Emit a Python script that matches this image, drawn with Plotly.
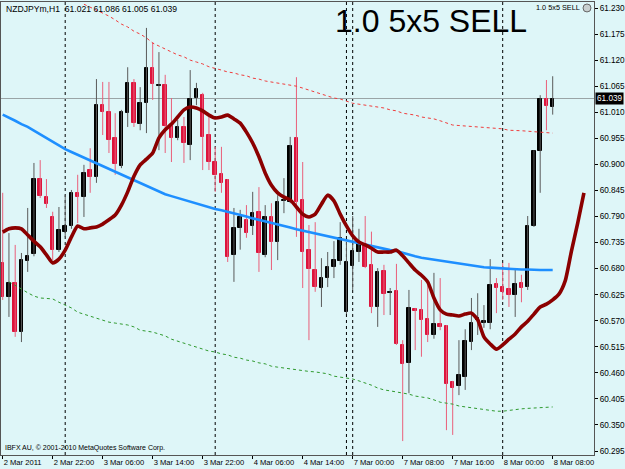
import plotly.graph_objects as go

# ---------------- data ----------------
tick_bars = [0, 8, 16, 24, 32, 40, 48, 56, 64, 72, 80, 88]
tick_labels = ["2 Mar 2011", "2 Mar 22:00", "3 Mar 06:00", "3 Mar 14:00", "3 Mar 22:00",
               "4 Mar 06:00", "4 Mar 14:00", "7 Mar 00:00", "7 Mar 08:00", "7 Mar 16:00",
               "8 Mar 00:00", "8 Mar 08:00"]
separators = [10, 34, 55, 56, 80]   # period separator bars (day boundaries)

opens = [60.692, 60.620, 60.650, 60.546, 60.696, 60.711, 60.869, 60.831, 60.789, 60.720,
         60.758, 60.770, 60.840, 60.831, 60.888, 60.873, 61.025, 61.010, 60.955, 60.897,
         61.008, 61.072, 60.985, 61.029, 61.103, 61.065, 61.067, 60.981, 60.955, 60.979,
         60.941, 61.040, 61.046, 60.962, 60.905, 60.880, 60.867, 60.709, 60.766, 60.783,
         60.770, 60.800, 60.709, 60.789, 60.736, 60.823, 60.821, 60.955, 60.825, 60.720,
         60.677, 60.639, 60.660, 60.683, 60.696, 60.588, 60.685, 60.715, 60.730, 60.688,
         60.599, 60.675, 60.628, 60.633, 60.519, 60.481, 60.595, 60.593, 60.574, 60.540,
         60.563, 60.559, 60.441, 60.432, 60.451, 60.525, 60.571, 60.565, 60.565, 60.647,
         60.641, 60.637, 60.624, 60.650, 60.641, 60.770, 60.928, 61.038, 61.021]
highs = [60.840, 60.755, 60.730, 60.713, 60.808, 60.903, 60.909, 60.869, 60.800, 60.810,
         60.835, 60.846, 60.878, 60.899, 60.934, 61.080, 61.074, 61.074, 61.008, 61.015,
         61.105, 61.080, 61.063, 61.188, 61.158, 61.137, 61.089, 61.040, 60.994, 61.000,
         61.099, 61.072, 61.051, 61.000, 60.937, 60.937, 60.869, 60.808, 60.804, 60.814,
         60.842, 60.852, 60.814, 60.818, 60.835, 60.871, 60.958, 61.084, 60.905, 60.772,
         60.778, 60.702, 60.715, 60.738, 60.778, 60.736, 60.791, 60.764, 60.791, 60.758,
         60.681, 60.688, 60.639, 60.690, 60.529, 60.635, 60.597, 60.656, 60.645, 60.671,
         60.660, 60.561, 60.443, 60.529, 60.552, 60.618, 60.628, 60.603, 60.700, 60.660,
         60.692, 60.692, 60.677, 60.667, 60.791, 60.930, 61.046, 61.078, 61.086]
lows = [60.614, 60.578, 60.536, 60.525, 60.673, 60.706, 60.829, 60.808, 60.698, 60.715,
        60.747, 60.764, 60.776, 60.789, 60.840, 60.861, 60.962, 60.924, 60.878, 60.892,
        60.979, 60.979, 60.972, 60.966, 61.036, 60.930, 60.924, 60.905, 60.951, 60.903,
        60.909, 61.025, 60.888, 60.888, 60.842, 60.840, 60.694, 60.652, 60.720, 60.745,
        60.751, 60.673, 60.704, 60.677, 60.698, 60.797, 60.818, 60.747, 60.639, 60.529,
        60.631, 60.599, 60.641, 60.660, 60.688, 60.584, 60.635, 60.694, 60.681, 60.586,
        60.557, 60.582, 60.582, 60.519, 60.316, 60.417, 60.508, 60.494, 60.525, 60.532,
        60.550, 60.339, 60.329, 60.413, 60.424, 60.508, 60.540, 60.555, 60.552, 60.586,
        60.614, 60.599, 60.578, 60.609, 60.635, 60.768, 60.840, 60.972, 61.005]
closes = [60.620, 60.650, 60.546, 60.698, 60.706, 60.869, 60.833, 60.816, 60.720, 60.762,
          60.770, 60.840, 60.831, 60.882, 60.873, 61.025, 61.010, 60.951, 60.901, 61.010,
          61.072, 60.987, 61.029, 61.103, 61.070, 61.067, 60.981, 60.955, 60.979, 60.945,
          61.038, 61.059, 60.958, 60.905, 60.878, 60.861, 60.704, 60.766, 60.789, 60.755,
          60.797, 60.713, 60.789, 60.736, 60.821, 60.825, 60.939, 60.821, 60.715, 60.679,
          60.641, 60.660, 60.683, 60.698, 60.745, 60.694, 60.717, 60.734, 60.683, 60.599,
          60.673, 60.626, 60.631, 60.521, 60.479, 60.597, 60.590, 60.571, 60.540, 60.563,
          60.557, 60.437, 60.428, 60.455, 60.527, 60.565, 60.576, 60.569, 60.645, 60.639,
          60.631, 60.624, 60.647, 60.639, 60.770, 60.928, 61.038, 61.023, 61.039]

# shifted smoothing line (extends 5 bars past the last candle)
smooth_line = [60.757, 60.764, 60.766, 60.764, 60.751, 60.738, 60.726, 60.709, 60.692, 60.700,
               60.719, 60.747, 60.770, 60.764, 60.766, 60.768, 60.774, 60.783, 60.793, 60.814,
               60.842, 60.875, 60.899, 60.911, 60.924, 60.956, 60.973, 60.985, 61.000, 61.015,
               61.021, 61.019, 61.013, 61.004, 60.998, 61.000, 61.004, 60.996, 60.987, 60.968,
               60.945, 60.916, 60.882, 60.856, 60.840, 60.831, 60.825, 60.810, 60.795, 60.789,
               60.795, 60.816, 60.835, 60.823, 60.795, 60.770, 60.749, 60.736, 60.730, 60.723,
               60.715, 60.715, 60.715, 60.719, 60.707, 60.692, 60.677, 60.666, 60.652, 60.618,
               60.593, 60.584, 60.582, 60.580, 60.584, 60.586, 60.572, 60.536, 60.521, 60.510,
               60.519, 60.531, 60.542, 60.557, 60.569, 60.584, 60.599, 60.605, 60.614, 60.626,
               60.654, 60.717, 60.776, 60.840]

moving_avg = [61.005, 60.999, 60.992, 60.985, 60.979, 60.971, 60.963, 60.955, 60.948, 60.940,
              60.932, 60.926, 60.920, 60.914, 60.908, 60.902, 60.896, 60.890, 60.884, 60.878,
              60.872, 60.866, 60.860, 60.855, 60.849, 60.843, 60.837, 60.833, 60.829, 60.825,
              60.821, 60.817, 60.813, 60.810, 60.806, 60.803, 60.800, 60.797, 60.793, 60.790,
              60.786, 60.783, 60.779, 60.776, 60.773, 60.770, 60.767, 60.763, 60.760, 60.757,
              60.754, 60.752, 60.749, 60.746, 60.743, 60.740, 60.737, 60.734, 60.731, 60.728,
              60.725, 60.722, 60.719, 60.717, 60.713, 60.710, 60.706, 60.703, 60.701, 60.699,
              60.696, 60.694, 60.692, 60.690, 60.688, 60.686, 60.684, 60.683, 60.682, 60.681,
              60.680, 60.680, 60.679, 60.678, 60.678, 60.677, 60.677, 60.677, 60.677]

upper_band = [None] * 13 + [
              61.238, 61.232, 61.226, 61.219, 61.213, 61.205, 61.196,
              61.190, 61.181, 61.175, 61.167, 61.156, 61.150, 61.143, 61.137, 61.131, 61.127,
              61.120, 61.116, 61.112, 61.106, 61.103, 61.099, 61.095, 61.093, 61.089, 61.087,
              61.082, 61.080, 61.076, 61.074, 61.072, 61.070, 61.067, 61.065, 61.061, 61.057,
              61.053, 61.049, 61.044, 61.040, 61.038, 61.034, 61.029, 61.027, 61.025, 61.023,
              61.021, 61.019, 61.015, 61.013, 61.008, 61.006, 61.004, 61.000, 60.998, 60.996,
              60.992, 60.987, 60.983, 60.982, 60.981, 60.980, 60.979, 60.978, 60.977, 60.976,
              60.975, 60.972, 60.972, 60.971, 60.970, 60.969, 60.968, 60.967, 60.966]

lower_band = [None] + [
              60.652, 60.645, 60.637, 60.629, 60.622, 60.618, 60.617, 60.616, 60.609,
              60.603, 60.597, 60.588, 60.584, 60.580, 60.576, 60.572, 60.567, 60.565, 60.563,
              60.561, 60.557, 60.550, 60.548, 60.546, 60.542, 60.538, 60.531, 60.527, 60.523,
              60.519, 60.515, 60.510, 60.506, 60.504, 60.500, 60.498, 60.493, 60.491, 60.487,
              60.485, 60.481, 60.479, 60.474, 60.472, 60.470, 60.468, 60.466, 60.464, 60.463,
              60.462, 60.460, 60.458, 60.453, 60.451, 60.449, 60.447, 60.443, 60.439, 60.434,
              60.428, 60.424, 60.422, 60.420, 60.418, 60.415, 60.411, 60.409, 60.407, 60.403,
              60.398, 60.396, 60.394, 60.390, 60.388, 60.386, 60.384, 60.382, 60.381, 60.379,
              60.379, 60.381, 60.382, 60.384, 60.385, 60.386, 60.387, 60.388, 60.388]

y_ticks = [round(60.295 + 0.055 * k, 3) for k in range(18)]

# ---------------- style ----------------
BG = "#def6f8"
RED = "#dc143c"
FONT = "Liberation Sans, Arial, sans-serif"

n = len(opens)
idx = list(range(n))
bull = [c >= o for o, c in zip(opens, closes)]

fig = go.Figure()

# wicks
for is_bull, col in [(True, "#5a5a5a"), (False, "#ea5f7a")]:
    xs, ys = [], []
    for i in idx:
        if bull[i] == is_bull:
            xs += [i, i, None]
            ys += [lows[i], highs[i], None]
    fig.add_trace(go.Scatter(x=xs, y=ys, mode="lines", line=dict(color=col, width=1),
                             hoverinfo="skip"))

# bodies
body_base = [min(o, c) for o, c in zip(opens, closes)]
body_h = [abs(c - o) for o, c in zip(opens, closes)]
body_col = ["#000000" if b else RED for b in bull]
fig.add_trace(go.Bar(x=idx, y=body_h, base=body_base, width=0.56,
                     marker=dict(color=body_col, line=dict(color=body_col, width=1))))

# indicator lines
fig.add_trace(go.Scatter(x=list(range(len(upper_band))), y=upper_band, mode="lines",
                         line=dict(color="#f03c3c", width=1, dash="3px,3px")))
fig.add_trace(go.Scatter(x=list(range(len(lower_band))), y=lower_band, mode="lines",
                         line=dict(color="#2f9a2f", width=1, dash="3px,3px")))
fig.add_trace(go.Scatter(x=list(range(len(moving_avg))), y=moving_avg, mode="lines",
                         line=dict(color="#1e8fff", width=2.6)))
fig.add_trace(go.Scatter(x=list(range(len(smooth_line))), y=smooth_line, mode="lines",
                         line=dict(color="#8b0000", width=3.6, shape="spline", smoothing=0.6)))

# period separators
for s in separators:
    fig.add_shape(type="line", x0=s, x1=s, xref="x", y0=0, y1=1, yref="paper",
                  line=dict(color="#000000", width=1, dash="dot"), layer="below")

# bid line
fig.add_shape(type="line", x0=0, x1=1, xref="paper", y0=closes[-1], y1=closes[-1], yref="y",
              line=dict(color="#9aa4a6", width=1), layer="below")

annotations = [
    dict(text="NZDJPYm,H1  %.3f %.3f %.3f %.3f" % (opens[-1], highs[-1], lows[-1], closes[-1]),
         x=0, xref="paper", xanchor="left", xshift=3, y=1, yref="paper", yanchor="top", yshift=0,
         showarrow=False, font=dict(family=FONT, size=8.6, color="#000")),
    dict(text="1.0 5x5 SELL", x=0.7245, xref="paper", xanchor="center",
         y=0.957, yref="paper", yanchor="middle", showarrow=False,
         font=dict(family=FONT, size=32, color="#000")),
    dict(text="1.0 5x5 SELL", x=0.980, xref="paper", xanchor="right",
         y=0.987, yref="paper", yanchor="middle", showarrow=False,
         font=dict(family=FONT, size=7.3, color="#000")),
    dict(text="IBFX AU, © 2001-2010 MetaQuotes Software Corp.", x=0, xref="paper", xanchor="left",
         xshift=2, y=0.016, yref="paper", yanchor="middle", showarrow=False,
         font=dict(family=FONT, size=7, color="#000")),
    dict(text="%.3f" % closes[-1], x=1, xref="paper", xanchor="left", xshift=1,
         y=closes[-1], yref="y", yanchor="middle", showarrow=False, bgcolor="#000000",
         borderpad=1, font=dict(family=FONT, size=8.2, color="#ffffff")),
]

# expert advisor icon
fig.add_shape(type="circle", xref="paper", yref="paper", x0=0.9815, x1=0.9949, y0=0.978, y1=0.9956,
              line=dict(color="#666", width=1), fillcolor="#c8d0d0")

fig.update_layout(
    width=625, height=469, autosize=False,
    margin=dict(l=1, r=31, t=2, b=14, pad=0),
    paper_bgcolor=BG, plot_bgcolor=BG,
    showlegend=False, annotations=annotations,
    bargap=0,
    xaxis=dict(range=[-0.27, 94.61], tickvals=tick_bars, ticktext=tick_labels,
               ticks="outside", ticklen=3, tickcolor="#000", showgrid=False, zeroline=False,
               showline=True, linecolor="#555", linewidth=1, mirror=True,
               ticklabelposition="outside right",
               tickfont=dict(family=FONT, size=7.6, color="#000"), automargin=False),
    yaxis=dict(range=[60.2866, 61.2427], side="right", tickvals=y_ticks,
               ticktext=["%.3f" % v for v in y_ticks],
               ticks="outside", ticklen=3, tickcolor="#000", showgrid=False, zeroline=False,
               showline=True, linecolor="#555", linewidth=1, mirror=True,
               tickfont=dict(family=FONT, size=8.2, color="#000"), automargin=False),
)

fig.write_html("out.html")
